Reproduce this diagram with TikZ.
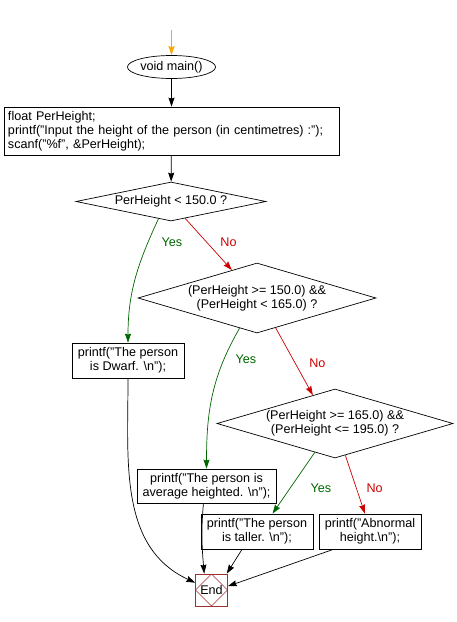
\documentclass[tikz,border=0pt]{standalone}
\usepackage{fontspec}
\setmainfont{Liberation Sans}
\usetikzlibrary{shapes.geometric,arrows.meta,positioning}
\definecolor{yesgreen}{HTML}{006600}
\definecolor{nored}{HTML}{CC0000}
\definecolor{startorange}{HTML}{FFA500}
\definecolor{endred}{HTML}{A03030}
\begin{document}
\begin{tikzpicture}[->,>={Stealth[length=9pt,width=6pt,inset=1pt]},x=1pt,y=-1pt,line width=0.7pt,
every node/.style={font=\fontsize{12.6}{14}\selectfont},
proc/.style={draw,rectangle,align=center,inner sep=0pt},
decision/.style={draw,diamond,aspect=3.4,align=center,inner sep=0pt},
term/.style={draw,ellipse,inner sep=0pt},
endbox/.style={draw=endred,rectangle,minimum size=32pt,inner sep=0pt,path picture={\draw[endred,-,line width=0.6pt] (path picture bounding box.north) -- (path picture bounding box.east) -- (path picture bounding box.south) -- (path picture bounding box.west) -- cycle;}},
lbl/.style={inner sep=0pt},
yesline/.style={color=yesgreen},
noline/.style={color=nored}]
\useasboundingbox (0,0) rectangle (456,622);
\coordinate (start) at (171.5,30);
\node[term, minimum width=79pt, minimum height=23pt] (main) at (171.5,67) {void main()};
\node[proc, align=left, inner xsep=4pt, text width=327pt, minimum height=48pt] (decl) at (171.5,131) {float PerHeight;\\printf("Input the height of the person (in centimetres) :");\\scanf("\%f", \&PerHeight);};
\node[decision, aspect=5, minimum width=190pt, minimum height=39pt] (d1) at (171,201.5) {PerHeight < 150.0 ?};
\node[decision, minimum width=238pt, minimum height=70pt] (d2) at (257,298) {(PerHeight >= 150.0) \&\&\\(PerHeight < 165.0) ?};
\node[decision, minimum width=236pt, minimum height=69pt] (d3) at (335,423.5) {(PerHeight >= 165.0) \&\&\\(PerHeight <= 195.0) ?};
\node[proc, minimum width=112pt, minimum height=35pt] (dwarf) at (128,360.5) {printf("The person\\is Dwarf. \textbackslash n");};
\node[proc, minimum width=139pt, minimum height=34pt] (avg) at (206.5,486) {printf("The person is\\average heighted. \textbackslash n");};
\node[proc, minimum width=112pt, minimum height=35pt] (taller) at (257,531.5) {printf("The person\\is taller. \textbackslash n");};
\node[proc, minimum width=102pt, minimum height=35pt] (abnormal) at (370,531.5) {printf("Abnormal\\height.\textbackslash n");};
\node[endbox] (end) at (211.5,590) {End};
% main line
\draw[startorange] (start) -- (main);
\draw (main) -- (decl);
\draw (decl) -- (d1);
% branches
\draw[yesline] (d1.-126) to[out=-115,in=90] node[lbl, pos=0.18, right=13pt] {Yes} (dwarf.north);
\draw[noline] (d1.-50) -- node[lbl, pos=0.47, right=13pt] {No} (d2.132);
\draw[yesline] (d2.-120) to[out=-120,in=90] node[lbl, pos=0.22, right=11pt] {Yes} (avg.north);
\draw[noline] (d2.-58) -- node[lbl, pos=0.52, right=14pt] {No} (d3.128);
\draw[yesline] (d3.-125) -- node[lbl, pos=0.58, right=20pt] {Yes} (taller.49);
\draw[noline] (d3.-72) -- node[lbl, pos=0.56, right=10pt] {No} (abnormal.106);
% to end
\draw (dwarf.south) to[out=-90,in=155] (end.156);
\draw (avg.-100) to[out=-95,in=95] (end.114);
\draw (taller.-130) -- (end.47);
\draw (abnormal.-154) -- (end.13);
\end{tikzpicture}
\end{document}
